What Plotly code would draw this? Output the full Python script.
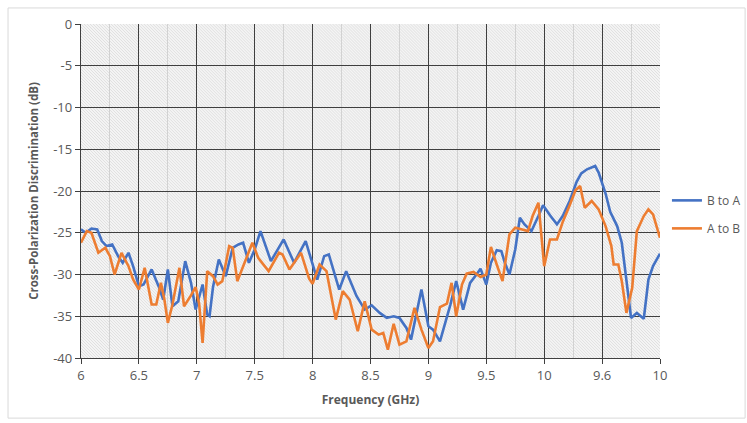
import base64
import plotly.graph_objects as go

# ---- data ----
freq_b = [6.00, 6.04, 6.09, 6.14, 6.18, 6.22, 6.27, 6.32, 6.36, 6.41, 6.45, 6.50, 6.54, 6.61, 6.67,
          6.71, 6.75, 6.79, 6.84, 6.90, 6.95, 6.99, 7.05, 7.09, 7.11, 7.14, 7.19, 7.25, 7.31, 7.36,
          7.40, 7.45, 7.50, 7.55, 7.64, 7.75, 7.84, 7.94, 8.04, 8.10, 8.14, 8.23, 8.29, 8.38, 8.45,
          8.51, 8.58, 8.64, 8.70, 8.75, 8.81, 8.85, 8.94, 9.00, 9.04, 9.10, 9.19, 9.24, 9.30, 9.36,
          9.42, 9.45, 9.50, 9.54, 9.59, 9.63, 9.66, 9.70, 9.75, 9.79, 9.83, 9.89, 9.95, 9.99, 10.05,
          10.11, 10.16, 10.22, 10.28, 10.32, 10.37, 10.44, 10.47, 10.53, 10.57, 10.63, 10.67, 10.71,
          10.75, 10.80, 10.86, 10.90, 10.94, 11.00]
xpd_b = [-24.6, -25.0, -24.5, -24.6, -26.0, -26.6, -26.4, -27.8, -28.6, -27.4, -29.0, -31.4, -31.2, -29.4, -31.4,
         -33.0, -29.4, -33.8, -33.2, -28.4, -31.0, -34.2, -31.2, -34.8, -35.0, -31.5, -28.2, -30.2, -26.8, -26.4,
         -26.2, -28.6, -27.0, -24.8, -28.4, -25.8, -28.6, -26.0, -30.6, -27.8, -27.6, -31.8, -29.6, -32.6, -34.2,
         -33.7, -34.6, -35.2, -35.0, -35.2, -36.4, -37.8, -31.8, -36.2, -36.6, -38.0, -33.6, -30.8, -34.2, -31.0,
         -29.9, -29.3, -31.2, -28.6, -27.1, -27.2, -28.6, -30.0, -27.0, -23.2, -24.0, -24.8, -23.0, -21.7, -22.9,
         -24.0, -23.0, -21.2, -18.9, -17.9, -17.4, -17.0, -17.8, -20.3, -22.5, -24.2, -26.2, -31.0,
         -35.2, -34.6, -35.3, -30.6, -29.0, -27.5]

freq_a = [6.00, 6.05, 6.09, 6.15, 6.21, 6.25, 6.29, 6.35, 6.41, 6.45, 6.50, 6.55, 6.61, 6.65, 6.69,
          6.72, 6.75, 6.79, 6.85, 6.89, 6.95, 6.99, 7.02, 7.05, 7.09, 7.14, 7.18, 7.22, 7.28, 7.31,
          7.35, 7.40, 7.48, 7.53, 7.62, 7.71, 7.74, 7.80, 7.90, 7.97, 8.00, 8.06, 8.12, 8.20, 8.26,
          8.32, 8.39, 8.45, 8.51, 8.57, 8.61, 8.65, 8.70, 8.75, 8.81, 8.88, 8.94, 9.00, 9.04, 9.10,
          9.16, 9.20, 9.24, 9.29, 9.33, 9.39, 9.45, 9.50, 9.54, 9.59, 9.64, 9.70, 9.75, 9.81, 9.86,
          9.90, 9.95, 10.00, 10.05, 10.11, 10.16, 10.22, 10.27, 10.31, 10.35, 10.41, 10.47, 10.53,
          10.58, 10.60, 10.64, 10.67, 10.71, 10.76, 10.80, 10.86, 10.90, 10.94, 11.00]
xpd_a = [-26.2, -24.8, -25.0, -27.4, -26.8, -27.8, -30.0, -27.4, -29.0, -30.6, -31.8, -29.2, -33.6, -33.6, -31.0,
         -33.0, -35.8, -33.6, -29.2, -33.8, -32.5, -31.5, -33.5, -38.2, -29.6, -30.2, -31.2, -30.8, -26.6, -26.8,
         -30.8, -29.0, -26.2, -28.0, -29.6, -27.4, -27.6, -29.4, -27.4, -30.5, -31.1, -28.8, -29.6, -35.4, -32.0,
         -33.0, -36.8, -33.2, -36.6, -37.2, -37.0, -39.0, -35.9, -38.4, -38.0, -34.0, -36.6, -38.8, -38.0, -33.9,
         -33.5, -31.0, -35.0, -31.2, -29.9, -29.7, -30.3, -30.0, -26.7, -28.8, -30.8, -25.2, -24.4, -24.6, -24.8,
         -23.0, -21.4, -29.0, -25.8, -25.8, -23.7, -21.7, -19.9, -19.4, -22.0, -21.2, -22.2, -24.2,
         -26.6, -28.8, -28.8, -30.8, -34.6, -31.6, -24.8, -23.0, -22.2, -22.8, -25.6]

series_names = ["B to A", "A to B"]
series_colors = ["#4472C4", "#ED7D31"]

x_tickvals = [6, 6.5, 7, 7.5, 8, 8.5, 9, 9.5, 10, 10.5, 11]
x_ticktext = ["6", "6.5", "7", "7.5", "8", "8.5", "9", "9.5", "10", "9.6", "10"]
y_tickvals = [0, -5, -10, -15, -20, -25, -30, -35, -40]
y_ticktext = ["0", "-5", "-10", "-15", "-20", "-25", "-30", "-35", "-40"]

# ---- hatched plot background as an inline SVG image ----
svg = (
    '<svg xmlns="http://www.w3.org/2000/svg" width="580" height="334">'
    '<defs><pattern id="p" patternUnits="userSpaceOnUse" width="3" height="3">'
    '<path d="M-1,-1 L4,4" stroke="#dadada" stroke-width="0.8"/></pattern></defs>'
    '<rect width="580" height="334" fill="#f4f4f4"/>'
    '<rect width="580" height="334" fill="url(#p)"/></svg>'
)
svg_uri = "data:image/svg+xml;base64," + base64.b64encode(svg.encode()).decode()

fig = go.Figure()
for fx, fy, name, col in [(freq_b, xpd_b, series_names[0], series_colors[0]),
                          (freq_a, xpd_a, series_names[1], series_colors[1])]:
    fig.add_trace(go.Scatter(x=fx, y=fy, mode="lines", name=name, legendgroup=name,
                             line=dict(color=col, width=2.6)))

font_family = "Open Sans, Liberation Sans, sans-serif"
tick_color = "#595959"

fig.update_layout(
    width=747, height=423,
    margin=dict(l=81, r=87, t=24, b=65, autoexpand=False),
    paper_bgcolor="white",
    plot_bgcolor="#f2f2f2",
    font=dict(family=font_family, color=tick_color),
    showlegend=True,
    legend=dict(x=1.012, y=0.43, xanchor="left", yanchor="middle",
                font=dict(size=12, color=tick_color), bgcolor="rgba(0,0,0,0)",
                tracegroupgap=9, itemwidth=30),
    images=[dict(source=svg_uri, xref="paper", yref="paper", x=0, y=1,
                 sizex=1, sizey=1, sizing="stretch", layer="below", xanchor="left", yanchor="top")],
    shapes=[dict(type="rect", xref="paper", yref="paper",
                 x0=-0.126, x1=1.147, y0=-0.18, y1=1.048,
                 line=dict(color="#d9d9d9", width=1), fillcolor="rgba(0,0,0,0)", layer="below")],
)

fig.update_xaxes(
    range=[6, 11], tickmode="array", tickvals=x_tickvals, ticktext=x_ticktext,
    showgrid=True, gridcolor="#3f3f3f", gridwidth=1.4,
    minor=dict(dtick=0.25, tick0=6, showgrid=True, gridcolor="#d2d2d2", gridwidth=1.4),
    showline=True, linecolor="#3f3f3f", linewidth=1.4,
    ticks="outside", ticklen=5, tickcolor="#3f3f3f", tickwidth=1.2,
    tickfont=dict(size=13, color=tick_color, family=font_family),
    zeroline=False,
    title=dict(text="<b>Frequency (GHz)</b>", font=dict(size=12, color=tick_color), standoff=12),
)
fig.update_yaxes(
    range=[-40, 0], tickmode="array", tickvals=y_tickvals, ticktext=y_ticktext,
    showgrid=True, gridcolor="#3f3f3f", gridwidth=1.4,
    showline=True, linecolor="#3f3f3f", linewidth=1.4,
    ticks="outside", ticklen=5, tickcolor="#3f3f3f", tickwidth=1.2,
    tickfont=dict(size=13, color=tick_color, family=font_family),
    zeroline=False,
    title=dict(text="<b>Cross-Polarization Discrimination (dB)</b>",
               font=dict(size=11.5, color=tick_color), standoff=12),
)

fig.write_html("out.html")
